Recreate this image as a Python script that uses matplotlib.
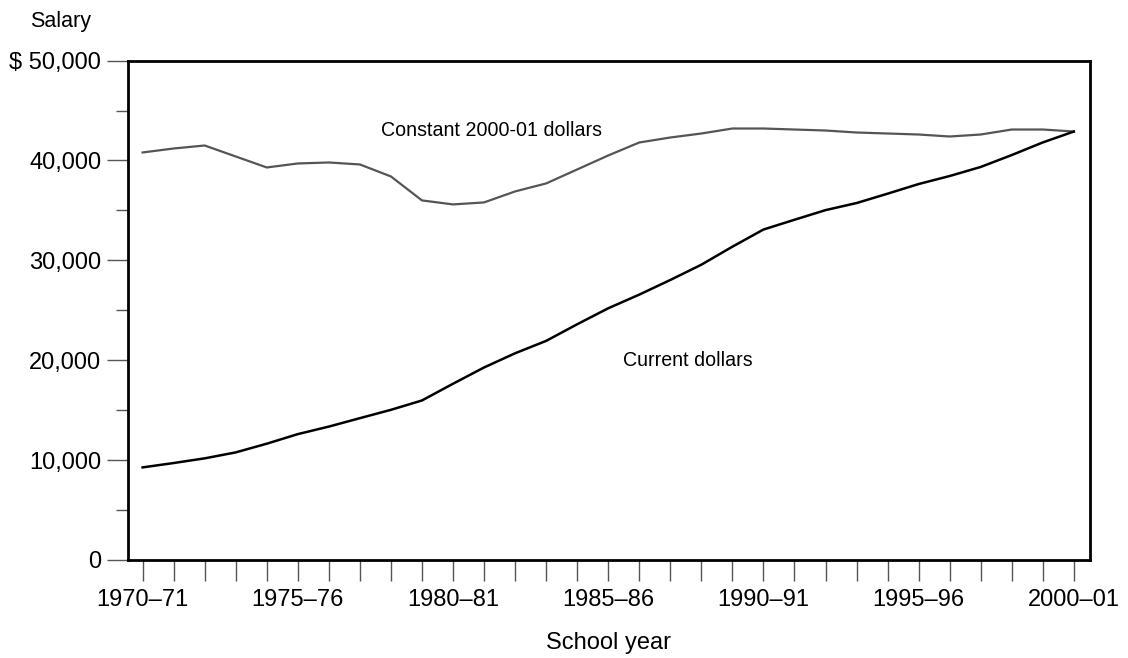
"""
Average teacher salary by school year, current vs constant 2000-01 dollars.
"""
import matplotlib
matplotlib.use('Agg')
import matplotlib.pyplot as plt
from matplotlib.ticker import MultipleLocator, FuncFormatter

# Data.
years = list(range(1970, 2001))  # first year of each school year
current_dollars = [9269, 9705, 10174, 10770, 11641, 12600, 13354, 14198, 15032, 15970,
                   17644, 19274, 20695, 21935, 23600, 25199, 26569, 28034, 29564, 31367,
                   33084, 34063, 35029, 35737, 36675, 37642, 38443, 39350, 40544, 41807,
                   42898]
constant_dollars = [40800, 41200, 41500, 40400, 39300, 39700, 39800, 39600, 38400, 36000,
                    35600, 35800, 36900, 37700, 39100, 40500, 41800, 42300, 42700, 43200,
                    43200, 43100, 43000, 42800, 42700, 42600, 42400, 42600, 43100, 43100,
                    42900]
tick_years = [1970, 1975, 1980, 1985, 1990, 1995, 2000]
tick_labels = ['1970\u201371', '1975\u201376', '1980\u201381', '1985\u201386',
               '1990\u201391', '1995\u201396', '2000\u201301']

plt.rcParams['font.family'] = ['Liberation Sans', 'DejaVu Sans']

fig = plt.figure(figsize=(11.28, 6.58), dpi=100)
ax = fig.add_axes([0.1132, 0.149, 0.8531, 0.7589])

ax.plot(years, constant_dollars, color='#555555', linewidth=1.6)
ax.plot(years, current_dollars, color='black', linewidth=1.8)

ax.set_xlim(1969.52, 2000.52)
ax.set_ylim(0, 50000)

# y axis: labelled every 10,000, minor every 5,000
ax.yaxis.set_major_locator(MultipleLocator(10000))
ax.yaxis.set_minor_locator(MultipleLocator(5000))
ax.yaxis.set_major_formatter(FuncFormatter(
    lambda v, p: f'$ {int(v):,}' if v == 50000 else f'{int(v):,}'))

# x axis: tick every year, label every five
ax.set_xticks(tick_years)
ax.set_xticklabels(tick_labels)
ax.xaxis.set_minor_locator(MultipleLocator(1))

ax.tick_params(axis='both', which='both', direction='out', color='#555555', width=1.0)
ax.tick_params(axis='y', which='major', length=15, labelsize=17, pad=4)
ax.tick_params(axis='y', which='minor', length=9)
ax.tick_params(axis='x', which='both', length=15, labelsize=17, pad=6)

for s in ax.spines.values():
    s.set_linewidth(2)
    s.set_color('black')

ax.text(1977.67, 43000, 'Constant 2000-01 dollars', fontsize=14.1, va='center', ha='left')
ax.text(1985.47, 20000, 'Current dollars', fontsize=14.1, va='center', ha='left')

fig.text(30 / 1128, 1 - 22 / 658, 'Salary', fontsize=15.5, ha='left', va='center')
ax.set_xlabel('School year', fontsize=17, labelpad=15)

plt.savefig('out.png', dpi=100)
